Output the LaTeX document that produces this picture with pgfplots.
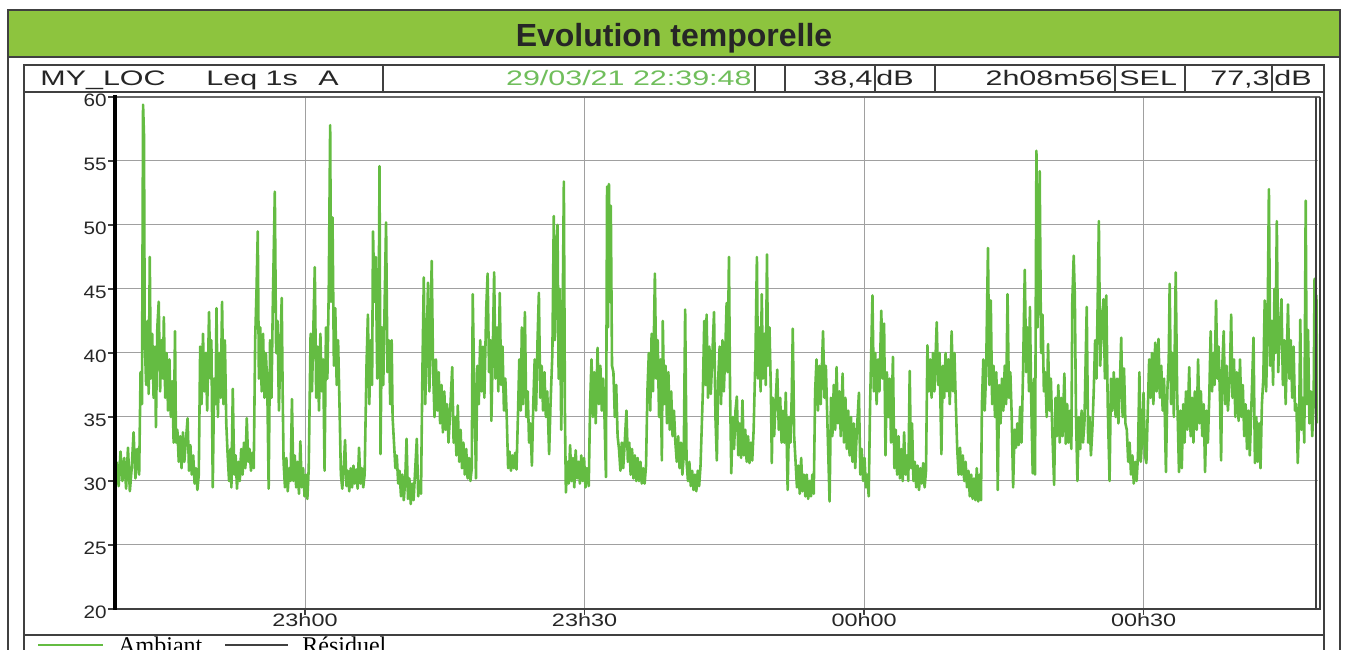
\documentclass[border=0pt]{standalone}
\usepackage{fontspec}
\setmainfont{Liberation Sans}
\newfontfamily\hdrfont[FakeStretch=1.45]{Liberation Sans}
\newfontfamily\xtfont[FakeStretch=1.3]{Liberation Sans}
\newfontfamily\ytfont[FakeStretch=1.15]{Liberation Sans}
\newfontfamily\legfont{Liberation Serif}
\usepackage{pgfplots}
\pgfplotsset{compat=1.18}
\definecolor{titlegreen}{RGB}{141,196,62}
\definecolor{linegreen}{RGB}{100,188,66}
\definecolor{dategreen}{RGB}{112,190,92}
\definecolor{framegray}{RGB}{64,64,64}
\definecolor{gridgray}{RGB}{160,160,160}
\begin{document}
\begin{tikzpicture}
\useasboundingbox (0,0) rectangle (673pt,324.5pt);
\clip (0,0) rectangle (673pt,324.5pt);
% title band
\begin{scope}[x=0.5pt,y=-0.5pt,shift={(0,324.5pt)}]
\fill[titlegreen] (8,10) rectangle (1340,57);
\end{scope}
\begin{axis}[
  at={(57pt,20pt)}, anchor=south west, scale only axis,
  width=602pt, height=256pt,
  xmin=39.5, xmax=168.72, ymin=20, ymax=60,
  xtick={60,90,120,150}, xticklabels={23h00,23h30,00h00,00h30},
  ytick={20,25,30,35,40,45,50,55,60},
  grid=major, major grid style={gridgray, line width=0.5pt},
  axis line style={draw=none},
  tick align=outside, tick pos=left, major tick length=3pt,
  tick style={framegray, line width=0.6pt},
  xticklabel style={font=\xtfont\fontsize{9}{9}\selectfont, text=black!85, yshift=2.2pt, inner sep=1pt},
  yticklabel style={font=\ytfont\fontsize{9}{9}\selectfont, text=black!85, inner sep=0.5pt, yshift=-1.5pt},
  /pgf/number format/assume math mode=true,
  clip=true,
]
\addplot[linegreen, line width=1.3pt, line join=round] coordinates {
(39.8,31.5)(40.0,29.6)(40.2,32.3)(40.4,30.0)(40.6,31.8)(40.8,29.4)(41.0,32.6)(41.2,29.2)(41.4,31.0)(41.6,33.8)(41.8,30.2)(42.0,32.5)(42.2,30.5)
(42.35,38.5)(42.5,36.0)(42.62,59.4)(42.72,57.0)(42.8,41.0)
(42.95,37.5)(43.1,42.5)(43.22,36.8)(43.34,47.5)(43.45,38.0)(43.6,41.5)(43.75,36.5)(43.9,40.5)(44.0,34.2)(44.15,42.0)(44.3,44.0)(44.45,37.0)(44.6,41.0)(44.75,38.0)(44.85,42.8)(45.0,36.5)(45.15,40.0)(45.3,35.5)(45.45,39.5)(45.6,35.0)
(45.75,37.8)(45.9,33.0)(46.05,41.7)(46.15,33.0)
(46.3,34.0)(46.45,31.5)(46.6,33.5)(46.75,31.0)(46.9,33.8)(47.05,31.5)(47.2,33.0)(47.4,34.9)(47.55,30.8)(47.7,32.8)(47.85,30.5)(48.0,32.0)(48.15,29.8)(48.3,31.0)(48.45,29.3)(48.6,30.5)
(48.75,40.5)(48.9,36.0)(49.05,41.5)(49.2,37.0)(49.35,40.0)(49.5,35.5)(49.7,43.2)(49.85,38.0)(49.95,41.0)(50.1,29.5)(50.25,38.0)(50.4,36.0)(50.5,43.5)(50.65,35.0)(50.8,40.0)(50.95,36.5)(51.1,44.0)(51.25,36.0)(51.4,41.0)(51.55,34.5)
(51.7,32.0)(51.85,30.0)(52.0,32.5)(52.1,29.5)(52.25,37.2)(52.4,30.5)(52.55,32.0)(52.7,29.4)(52.85,31.5)(53.0,30.0)(53.15,32.5)(53.3,30.5)(53.45,33.0)(53.6,31.0)(53.75,34.9)(53.9,31.5)(54.05,32.5)(54.2,30.8)(54.35,32.2)(54.5,31.0)
(54.65,41.0)(54.8,45.0)(54.93,49.5)(55.05,38.0)(55.2,42.0)(55.35,37.0)(55.5,41.5)(55.65,36.5)(55.8,40.0)(55.95,37.5)(56.1,29.4)(56.25,41.0)(56.4,36.5)(56.55,44.0)(56.76,52.6)(56.9,40.0)(57.05,42.5)(57.2,35.5)(57.35,40.0)(57.5,44.3)(57.6,37.0)
(57.7,31.5)(57.85,29.5)(58.0,31.8)(58.15,29.2)(58.3,31.0)(58.45,30.0)(58.6,36.4)(58.75,30.0)(58.9,32.0)(59.05,29.5)(59.2,31.5)(59.35,29.0)(59.5,33.1)(59.65,29.5)(59.8,31.0)(59.95,28.8)(60.1,30.5)(60.25,28.6)(60.4,31.0)
(60.6,41.5)(60.75,37.0)(60.9,42.0)(61.05,46.7)(61.2,36.5)(61.35,40.5)(61.5,35.5)(61.65,41.5)(61.8,37.0)(61.95,39.5)(62.1,30.8)
(62.25,42.0)(62.4,38.0)(62.55,45.0)(62.7,57.8)(62.8,44.0)(62.95,50.6)(63.1,39.0)(63.25,43.5)(63.4,37.5)(63.55,41.0)(63.7,36.0)
(63.85,30.5)(64.0,29.4)(64.15,31.0)(64.3,33.2)(64.45,29.6)(64.6,30.8)(64.75,29.2)(64.9,31.0)(65.05,29.5)(65.2,31.2)(65.35,29.8)(65.5,30.9)(65.65,29.4)(65.8,32.6)(65.95,29.8)(66.1,31.0)(66.25,29.5)(66.4,30.5)
(66.6,39.0)(66.75,43.0)(66.9,36.0)(67.05,41.0)(67.2,37.5)(67.3,49.5)(67.45,44.0)(67.6,47.5)(67.75,38.0)(67.9,43.0)(68.0,54.6)(68.1,32.1)(68.25,42.0)(68.4,37.5)(68.55,44.0)(68.7,50.2)(68.85,38.5)(69.0,41.0)(69.15,36.0)(69.3,41.0)(69.4,35.0)
(69.55,33.0)(69.7,31.0)(69.85,32.0)(70.0,29.8)(70.15,30.8)(70.3,28.8)(70.45,30.5)(70.6,28.5)(70.75,30.0)(70.9,33.3)(71.05,28.6)(71.2,30.2)(71.35,28.2)(71.5,29.8)(71.65,28.5)(71.8,30.5)(72.0,33.3)(72.15,28.8)(72.3,30.0)(72.45,29.0)
(72.6,38.5)(72.75,45.9)(72.9,36.0)(73.05,40.0)(73.2,45.5)(73.35,37.0)(73.6,47.2)(73.75,38.5)(73.9,35.0)(74.05,39.5)(74.2,35.5)(74.35,38.5)(74.5,34.5)(74.65,37.5)(74.8,33.8)(74.95,37.0)(75.1,34.0)(75.25,36.0)(75.4,33.0)
(75.55,35.0)(75.8,38.9)(75.95,33.0)(76.1,35.0)(76.25,32.0)(76.4,35.9)(76.55,31.5)(76.7,34.0)(76.85,31.0)(77.0,33.0)(77.15,30.5)(77.3,32.5)(77.45,30.2)(77.6,31.8)(77.75,30.0)(77.9,31.0)
(78.0,44.6)(78.15,38.0)(78.35,30.2)(78.5,39.0)(78.65,36.0)(78.8,41.0)(78.95,37.0)(79.1,40.5)(79.25,36.5)(79.45,43.5)(79.6,46.2)(79.75,38.5)(79.9,41.0)(80.0,34.7)(80.15,40.0)(80.3,46.3)(80.45,38.0)(80.6,42.0)(80.75,37.0)(80.9,44.7)(81.05,37.5)(81.2,40.5)(81.35,35.5)(81.5,38.0)(81.65,35.0)
(81.8,31.0)(81.95,32.3)(82.1,30.8)(82.25,32.0)(82.4,31.0)(82.55,32.2)(82.7,30.9)
(82.85,35.0)(83.0,39.5)(83.15,35.5)(83.27,42.0)(83.4,36.0)(83.6,43.2)(83.75,35.0)(83.9,37.0)(84.05,33.0)(84.2,34.5)(84.35,31.2)
(84.5,36.0)(84.65,39.5)(84.8,35.5)(84.95,40.8)(85.1,44.7)(85.25,36.5)(85.4,39.0)(85.55,35.5)(85.7,38.5)(85.85,35.0)(86.0,37.0)(86.2,32.1)(86.35,36.0)
(86.55,40.0)(86.7,50.7)(86.82,41.0)(86.95,47.5)(87.1,50.0)(87.22,38.0)(87.35,45.0)(87.5,34.0)(87.62,40.0)(87.78,53.4)(87.9,35.0)
(88.0,29.1)(88.15,31.5)(88.3,29.8)(88.45,32.8)(88.6,30.0)(88.75,31.8)(88.9,29.5)(89.05,32.4)(89.2,30.2)(89.35,31.5)(89.5,29.8)(89.65,32.0)(89.8,30.0)(89.95,31.8)(90.1,29.5)(90.25,31.0)(90.45,29.6)
(90.6,36.0)(90.75,39.5)(90.9,35.0)(91.05,38.5)(91.2,34.5)(91.4,40.4)(91.55,36.0)(91.7,39.0)(91.85,35.5)(92.0,38.0)(92.15,34.8)(92.3,30.3)(92.42,53.0)(92.52,42.0)(92.62,53.2)(92.72,44.0)(92.82,51.5)(92.95,39.0)(93.1,38.5)(93.25,35.0)(93.4,37.5)(93.55,33.5)
(93.7,32.5)(93.85,30.8)(94.0,33.0)(94.15,31.0)(94.3,32.8)(94.5,35.5)(94.65,31.5)(94.8,33.0)(94.95,30.5)(95.1,32.5)(95.25,30.2)(95.4,32.0)(95.55,30.0)(95.7,31.8)(95.85,30.0)(96.0,31.5)(96.15,29.8)(96.3,31.0)(96.45,29.8)(96.6,31.2)
(96.75,37.0)(96.9,40.0)(97.05,35.5)(97.2,41.5)(97.35,37.0)(97.55,46.2)(97.7,38.0)(97.85,41.0)(98.0,35.0)(98.15,39.5)(98.3,31.6)(98.4,42.5)(98.55,36.0)(98.7,39.0)(98.85,34.5)(99.0,38.5)(99.15,34.0)(99.3,37.0)(99.45,33.5)(99.6,35.5)(99.75,33.0)
(99.9,31.5)(100.05,33.5)(100.2,31.0)(100.35,33.0)(100.5,30.5)(100.65,32.0)(100.8,43.4)(100.95,31.5)(101.1,30.0)(101.25,31.5)(101.4,29.6)(101.55,30.8)(101.7,29.3)(101.85,30.5)(102.0,29.2)(102.15,30.8)(102.3,29.6)(102.45,31.2)
(102.7,37.0)(102.85,42.5)(103.0,37.5)(103.1,43.0)(103.25,36.5)(103.4,40.5)(103.55,36.8)(103.7,39.5)(103.9,43.2)(104.05,35.0)(104.2,31.6)
(104.35,38.0)(104.5,40.5)(104.65,36.0)(104.8,41.0)(104.95,37.0)(105.1,40.0)(105.25,43.9)(105.35,38.5)(105.5,47.5)(105.62,37.0)(105.75,30.6)
(105.9,35.0)(106.05,32.5)(106.2,35.5)(106.35,36.6)(106.5,32.0)(106.65,34.5)(106.8,31.8)(106.95,36.3)(107.1,32.0)(107.25,34.0)(107.4,31.5)(107.55,33.5)(107.7,31.4)(107.85,33.0)(108.0,31.6)(108.15,34.0)
(108.35,40.0)(108.5,47.5)(108.62,38.0)(108.75,42.0)(108.9,37.0)(109.02,44.6)(109.15,38.0)(109.3,41.5)(109.45,37.5)(109.58,47.7)(109.7,39.0)(109.85,42.0)(110.0,37.0)(110.1,31.4)
(110.2,36.5)(110.35,33.5)(110.5,36.0)(110.68,38.7)(110.85,34.0)(111.0,36.5)(111.15,33.0)(111.3,35.5)(111.45,33.0)(111.6,36.9)(111.8,29.3)(111.95,35.0)(112.1,33.0)(112.25,37.0)(112.35,41.9)(112.5,33.5)
(112.65,31.5)(112.8,29.5)(112.95,31.2)(113.1,29.0)(113.25,31.8)(113.4,29.2)(113.55,30.5)(113.7,28.8)(113.85,30.5)(114.0,28.6)(114.15,30.0)(114.3,28.8)(114.45,30.5)(114.6,29.0)
(114.75,37.0)(114.9,39.5)(115.05,35.5)(115.2,39.0)(115.35,36.0)(115.6,41.7)(115.75,36.5)(115.9,39.0)(116.05,35.0)(116.3,28.4)
(116.45,36.5)(116.6,33.5)(116.75,37.5)(116.9,34.0)(117.05,38.9)(117.2,34.5)(117.35,37.0)(117.5,33.5)(117.7,38.4)(117.85,33.0)(118.0,36.5)(118.15,32.5)(118.3,35.5)
(118.45,32.0)(118.6,35.0)(118.75,31.5)(118.9,34.5)(119.05,31.0)(119.2,33.5)(119.45,36.9)(119.6,30.5)(119.75,32.5)(119.9,30.0)(120.05,31.8)(120.2,29.5)(120.35,30.5)(120.5,28.8)
(120.65,36.0)(120.9,44.5)(121.05,37.0)(121.2,40.0)(121.35,36.0)(121.5,39.5)(121.65,37.0)(121.85,43.3)(122.0,38.0)(122.15,42.3)(122.3,32.0)(122.45,38.5)(122.6,35.0)(122.75,38.0)
(122.9,33.0)(123.1,39.7)(123.25,31.0)(123.4,34.0)(123.55,30.5)(123.7,33.5)(123.85,30.2)(124.0,32.5)(124.15,30.0)(124.3,33.8)(124.45,30.5)(124.6,32.0)(124.75,30.0)(124.9,38.6)
(125.05,31.0)(125.15,34.5)(125.3,30.0)(125.45,31.5)(125.6,29.5)(125.75,31.2)(125.9,29.3)(126.05,31.0)(126.2,29.8)(126.35,31.4)(126.5,29.5)(126.65,30.8)
(126.8,40.6)(126.95,37.0)(127.1,39.5)(127.25,36.5)(127.4,40.0)(127.55,37.0)(127.8,42.4)(127.95,37.5)(128.1,40.0)(128.3,32.1)(128.45,39.0)(128.6,36.5)(128.75,40.0)(128.9,37.0)(129.05,39.5)(129.2,36.0)(129.4,41.7)(129.55,37.0)(129.7,40.0)(129.85,36.0)
(130.0,32.5)(130.15,30.5)(130.3,32.6)(130.45,30.5)(130.6,32.0)(130.75,30.0)(130.9,31.5)(131.05,29.5)(131.2,30.8)(131.35,28.8)(131.5,30.5)(131.65,28.6)(131.8,30.2)(131.95,28.5)(132.1,31.0)(132.25,28.4)(132.4,30.5)(132.55,28.5)
(132.65,36.0)(132.8,39.5)(132.95,35.5)(133.1,38.5)(133.3,48.2)(133.45,37.5)(133.6,44.1)(133.75,36.0)(133.9,39.0)(134.05,35.0)(134.2,38.5)(134.35,29.3)(134.5,37.5)(134.65,34.5)(134.8,38.0)
(134.95,35.5)(135.1,39.0)(135.25,36.0)(135.4,44.6)(135.55,36.5)(135.7,38.5)(135.85,35.0)(136.0,29.5)
(136.15,34.0)(136.3,32.6)(136.45,34.5)(136.6,32.8)(136.75,35.8)(136.9,33.0)
(137.05,38.0)(137.25,46.5)(137.4,38.5)(137.55,42.0)(137.7,37.0)(137.8,43.6)(137.95,36.0)(138.1,30.6)(138.25,38.0)
(138.35,30.5)(138.5,55.8)(138.62,42.0)(138.75,48.0)(138.85,54.2)(139.0,40.0)(139.15,43.0)
(139.3,37.0)(139.45,38.5)(139.6,35.0)(139.75,40.7)(139.9,35.5)(140.05,38.0)(140.2,34.0)(140.4,29.7)(140.55,36.5)(140.7,33.5)(140.85,37.5)(141.0,33.0)(141.15,36.5)(141.3,33.5)(141.5,38.4)(141.65,32.9)(141.8,36.0)(141.95,33.0)(142.1,35.5)(142.25,32.5)
(142.35,44.0)(142.5,47.6)(142.62,44.5)(142.75,35.0)
(142.9,30.0)(143.05,35.0)(143.2,32.5)(143.35,35.5)(143.5,33.0)(143.65,34.5)(143.9,43.6)(144.05,33.0)(144.2,35.0)(144.35,32.0)(144.5,34.0)
(144.65,37.0)(144.8,41.0)(144.95,38.0)(145.2,50.3)(145.35,39.0)(145.5,42.0)(145.7,44.2)(145.85,38.0)(146.0,44.5)(146.15,36.0)(146.35,30.0)(146.5,38.0)(146.65,35.5)(146.8,38.5)
(147.0,35.0)(147.15,38.0)(147.3,34.5)(147.45,37.5)(147.6,41.2)(147.75,35.0)(147.9,38.8)(148.05,34.5)
(148.2,34.0)(148.35,31.5)(148.5,33.0)(148.65,30.5)(148.8,32.0)(148.95,29.8)(149.1,31.5)(149.25,30.0)(149.4,32.0)(149.55,38.5)(149.7,31.5)(149.85,33.5)
(150.0,36.9)(150.15,32.0)(150.3,31.4)(150.45,35.5)(150.6,39.5)(150.75,36.5)(150.9,40.0)(151.05,36.0)(151.25,40.8)(151.4,37.0)(151.6,41.1)(151.75,36.5)(151.9,39.0)(152.05,35.5)
(152.2,38.0)(152.4,30.7)(152.55,37.0)(152.7,39.5)(152.8,45.4)(152.95,36.0)(153.1,40.0)(153.25,35.0)(153.45,46.3)(153.6,37.0)
(153.8,30.7)(153.95,35.5)(154.1,31.0)(154.25,36.0)(154.4,33.0)(154.55,37.0)(154.7,34.0)(154.9,38.9)(155.05,33.5)(155.2,36.5)(155.35,33.0)(155.5,37.0)(155.7,34.0)(155.85,39.5)(156.0,34.5)(156.15,37.0)(156.3,33.5)(156.45,36.0)(156.6,30.7)(156.75,35.5)(156.9,33.0)(157.05,36.5)
(157.2,41.7)(157.35,37.0)(157.5,40.0)(157.62,37.5)(157.78,44.1)(157.92,38.0)(158.05,40.5)(158.2,36.5)(158.32,31.6)(158.45,39.0)
(158.6,41.7)(158.75,36.0)(158.9,39.0)(159.05,35.5)(159.25,38.0)(159.4,43.0)(159.55,36.5)(159.7,39.5)(159.85,35.0)(160.0,38.5)(160.2,34.7)(160.35,39.5)(160.5,35.0)(160.65,37.5)
(160.8,33.5)(160.95,36.0)(161.1,32.5)(161.25,35.5)(161.4,32.0)(161.6,36.5)(161.8,41.2)(161.95,31.4)(162.1,35.0)(162.25,31.5)(162.4,34.5)(162.55,31.0)(162.7,36.0)
(162.85,38.0)(163.0,44.1)(163.15,37.0)(163.3,41.5)(163.45,52.8)(163.6,39.0)(163.75,42.5)(163.9,37.5)(164.05,45.0)(164.15,40.0)(164.3,50.3)
(164.45,38.5)(164.6,41.5)(164.8,44.2)(164.95,37.5)(165.1,41.0)(165.25,36.0)(165.5,43.8)(165.65,38.0)(165.8,41.0)(165.95,36.5)(166.1,40.5)(166.25,35.5)
(166.4,36.0)(166.55,31.4)(166.7,35.0)(166.82,42.6)(166.95,34.0)(167.1,36.5)(167.25,33.0)(167.4,51.9)(167.52,36.0)(167.65,41.8)(167.8,34.5)(167.95,37.0)(168.1,33.5)(168.25,36.0)
(168.35,45.8)(168.45,38.0)(168.55,44.5)(168.65,34.5)
};
\end{axis}
\begin{scope}[x=0.5pt,y=-0.5pt,shift={(0,324.5pt)}]
% plot frame
\draw[framegray!80, line width=1pt] (114,97) -- (1320,97);
\draw[framegray, line width=1.2pt] (114,609) -- (1321,609);
\draw[black, line width=1.6pt] (115,95) -- (115,610);
\draw[framegray, line width=0.8pt] (1316,97) -- (1316,609);
\draw[framegray, line width=0.8pt] (1320,97) -- (1320,609);
% outer frame and title band border
\draw[framegray, line width=1pt] (8,700) -- (8,10) -- (1340,10) -- (1340,700);
\draw[framegray, line width=1pt] (8,57) -- (1340,57);
% inner frame
\draw[framegray, line width=1.2pt] (24,700) -- (24,65) -- (1324,65) -- (1324,700);
\draw[framegray, line width=1.2pt] (24,92) -- (1324,92);
\draw[framegray, line width=1.2pt] (24,635) -- (1324,635);
% header cells
\draw[framegray, line width=1.2pt] (383,65) rectangle (755,92);
\draw[framegray, line width=1.2pt] (785,65) rectangle (875,92);
\draw[framegray, line width=1.2pt] (935,65) rectangle (1115,92);
\draw[framegray, line width=1.2pt] (1185,65) rectangle (1272,92);
% title
\node[anchor=base, font=\bfseries\fontsize{16}{16}\selectfont, text=black!85, inner sep=0pt] at (674,47) {Evolution temporelle};
% header texts
\begin{scope}[every node/.style={inner sep=0pt, font=\hdrfont\fontsize{10.5}{10.5}\selectfont, text=black!85}]
\node[anchor=base west] at (40,86) {MY\_LOC};
\node[anchor=base west] at (206,86) {Leq 1s};
\node[anchor=base west] at (318,86) {A};
\node[anchor=base east, text=dategreen] at (752,86) {29/03/21 22:39:48};
\node[anchor=base east] at (873,86) {38,4};
\node[anchor=base west] at (876,86) {dB};
\node[anchor=base east] at (1113,86) {2h08m56};
\node[anchor=base west] at (1119,86) {SEL};
\node[anchor=base east] at (1270,86) {77,3};
\node[anchor=base west] at (1274,86) {dB};
\end{scope}
% legend
\draw[linegreen, line width=1.2pt] (38,645) -- (103,645);
\draw[framegray, line width=1.2pt] (225,645) -- (288,645);
\node[anchor=base west, inner sep=0pt, font=\legfont\fontsize{12}{12}\selectfont] at (118,653) {Ambiant};
\node[anchor=base west, inner sep=0pt, font=\legfont\fontsize{12}{12}\selectfont] at (302,653) {Résiduel};
\end{scope}
\end{tikzpicture}
\end{document}
